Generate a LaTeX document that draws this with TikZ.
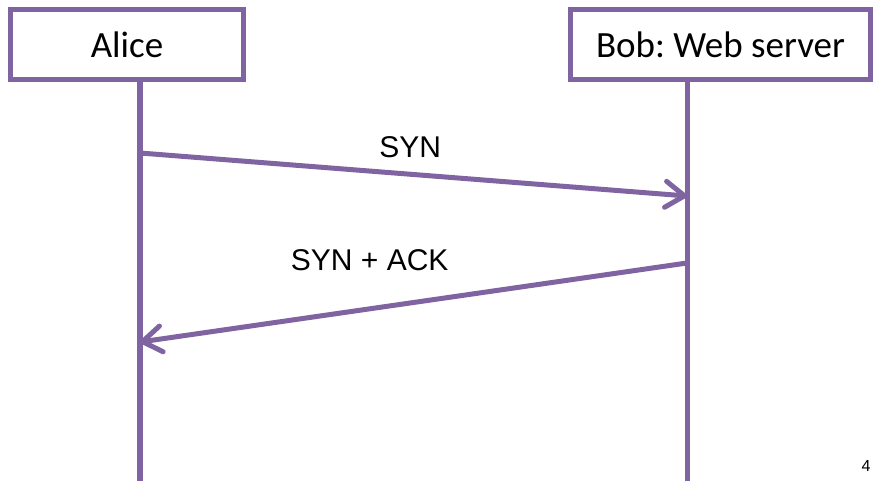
\documentclass[tikz,border=0pt]{standalone}
\usepackage{fontspec}
\setmainfont{Carlito}
\newfontfamily\arialfont{Liberation Sans}
\usetikzlibrary{arrows.meta,shadows}
\definecolor{seqpurple}{RGB}{128,100,162}
\frenchspacing

\begin{document}
\begin{tikzpicture}[x=1pt,y=-1pt,>={Straight Barb[length=19pt,width=26pt,round]},
  party/.style={draw=seqpurple,line width=5pt,fill=white,minimum height=70pt,
    inner sep=0pt,font=\fontsize{37}{40}\selectfont,
    drop shadow={opacity=0.25,shadow xshift=1.5pt,shadow yshift=-2pt}},
  lifeline/.style={draw=seqpurple,line width=5.5pt},
  msg/.style={->,draw=seqpurple,line width=5pt,line cap=round},
  msglabel/.style={inner sep=0pt,text=black,font=\arialfont\fontsize{30}{36}\selectfont}]
  \useasboundingbox (0,0) rectangle (874,481);

  \node[party,minimum width=233pt] (alice) at (127,44.5) {Alice};
  \node[party,minimum width=300pt] (bob)   at (720.5,44.5) {Bob: Web server};

  \coordinate (aliceEnd) at (140,481);
  \coordinate (bobEnd)   at (687.5,481);
  \draw[lifeline] (alice.south -| aliceEnd) -- (aliceEnd);
  \draw[lifeline] (bob.south -| bobEnd) -- (bobEnd);

  \coordinate (synA) at (140,153);
  \coordinate (synB) at (687,196);
  \coordinate (ackB) at (687,263);
  \coordinate (ackA) at (140,342);

  \path
    (synA) edge[msg] node[msglabel,pos=.494,above=14pt] {SYN} (synB)
    (ackB) edge[msg] node[msglabel,pos=.58,above=36pt] {SYN + ACK} (ackA);

  \node[font=\arialfont\fontsize{16}{18}\selectfont] (pagenum) at (866,466) {4};
\end{tikzpicture}
\end{document}
